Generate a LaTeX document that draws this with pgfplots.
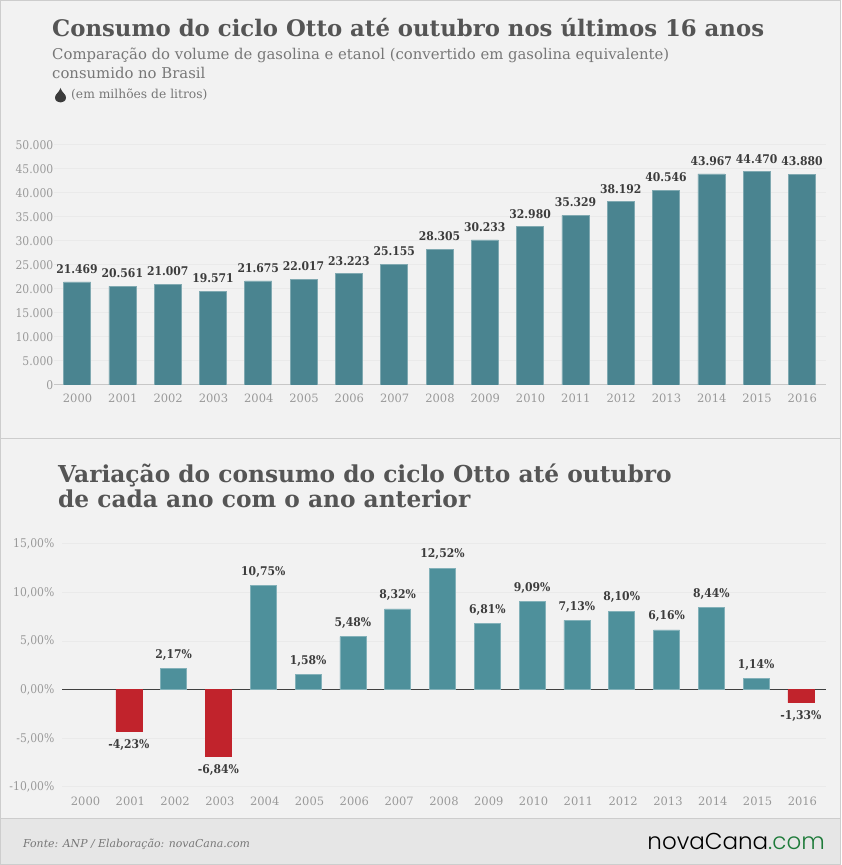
\documentclass[border=0pt]{standalone}
\usepackage{fontspec}
\usepackage{pgfplots}
\pgfplotsset{compat=1.18}
\setmainfont{DejaVu Serif}
\newfontfamily\condfont{DejaVu Serif Condensed}
\newfontfamily\logofont{Poppins}[UprightFont=* Light]
\definecolor{panel}{HTML}{F2F2F2}
\definecolor{foot}{HTML}{E6E6E6}
\definecolor{edge}{HTML}{CDCDCD}
\definecolor{gridc}{HTML}{EAEAEA}
\definecolor{titlec}{HTML}{555555}
\definecolor{subc}{HTML}{777777}
\definecolor{tickc}{HTML}{999999}
\definecolor{labelc}{HTML}{3C3C3C}
\definecolor{tealA}{HTML}{4A8490}
\definecolor{tealB}{HTML}{4E909B}
\definecolor{redbar}{HTML}{C1232C}
\definecolor{logog}{HTML}{1E7B3A}
\pgfplotsset{
  panelaxis/.style={
    scale only axis,
    ybar,
    bar width=27pt,
    bar shift=-0.5pt,
    axis line style={draw=none},
    tick style={draw=none},
    ymajorgrids,
    grid style={gridc,line width=1pt},
    xtick={2000,...,2016},
    xticklabel={\pgfmathprintnumber[fixed,precision=0,1000 sep={},assume math mode=true]{\tick}},
    x tick label style={font=\fontsize{11.5}{13}\selectfont,text=tickc,yshift=-3pt,inner sep=2pt},
    y tick label style={font=\condfont\fontsize{12}{13}\selectfont,text=tickc,inner xsep=0.5pt},
    every node near coord/.append style={font=\condfont\bfseries\fontsize{12}{13}\selectfont,text=labelc,inner ysep=8pt},
  }
}
\begin{document}
\begin{tikzpicture}[x=1pt,y=1pt]
\useasboundingbox (0,0) rectangle (841,865);
\fill[panel] (0,0) rectangle (841,865);
\fill[foot] (0,0) rectangle (841,46);
\draw[edge,line width=1pt] (0.5,0.5) rectangle (840.5,864.5);
\draw[edge,line width=1pt] (0,426) -- (841,426);
\draw[edge,line width=1pt] (0,46.5) -- (841,46.5);
% headings
\node[anchor=base west,inner sep=0,text=titlec] at (52,828) {\bfseries\fontsize{22.8}{26}\selectfont Consumo do ciclo Otto até outubro nos últimos 16 anos};
\node[anchor=base west,inner sep=0,text=subc] at (52,805) {\fontsize{14.85}{17}\selectfont Comparação do volume de gasolina e etanol (convertido em gasolina equivalente)};
\node[anchor=base west,inner sep=0,text=subc] at (52,786) {\fontsize{14.85}{17}\selectfont consumido no Brasil};
\node[anchor=base west,inner sep=0,text=subc] at (71,766) {\fontsize{12.3}{14}\selectfont (em milhões de litros)};
\fill[titlec!70!black] (60.5,777) .. controls (59,772) and (55,771) .. (55,767.5) .. controls (55,764) and (58,762.5) .. (60.5,762.5) .. controls (63,762.5) and (66,764) .. (66,767.5) .. controls (66,771) and (62,772) .. (60.5,777) -- cycle;
\node[anchor=base west,inner sep=0,text=titlec] at (58,382) {\bfseries\fontsize{23.3}{26}\selectfont Variação do consumo do ciclo Otto até outubro};
\node[anchor=base west,inner sep=0,text=titlec] at (58,357) {\bfseries\fontsize{23.3}{26}\selectfont de cada ano com o ano anterior};
% footer
\node[anchor=base west,inner sep=0,text=subc] at (23,17) {\itshape\fontsize{10.9}{14}\selectfont Fonte: ANP / Elaboração: novaCana.com};
\node[anchor=base east,inner sep=0] at (825,15) {\logofont\fontsize{23}{26}\selectfont\textcolor{black}{novaCana}\textcolor{logog}{.com}};
% top chart
\begin{axis}[panelaxis,
  at={(54pt,480pt)},anchor=south west,
  width=772pt,height=240pt,
  xmin=1999.48,xmax=2016.52,
  ymin=0,ymax=50000,
  ytick={0,5000,...,50000},
  /pgf/number format/1000 sep={.},
  /pgf/number format/assume math mode=true,
  scaled y ticks=false,
  nodes near coords,
  axis x line*=bottom,
  extra y ticks={0},
  extra y tick labels={},
  extra y tick style={grid style={gridc!85!black,line width=1pt}},
]
\addplot[fill=tealA,draw=tealA!70!white,line width=0.6pt] coordinates {
(2000,21469) (2001,20561) (2002,21007) (2003,19571) (2004,21675) (2005,22017)
(2006,23223) (2007,25155) (2008,28305) (2009,30233) (2010,32980) (2011,35329)
(2012,38192) (2013,40546) (2014,43967) (2015,44470) (2016,43880)};
\end{axis}
% bottom chart
\begin{axis}[panelaxis,
  at={(62pt,78pt)},anchor=south west,
  width=764pt,height=243pt,
  xmin=1999.475,xmax=2016.525,
  ymin=-10,ymax=15,
  bar width=26pt,
  bar shift=-1.5pt,
  ytick={-10,-5,0,5,10,15},
  /pgf/number format/.cd,fixed,fixed zerofill,precision=2,use comma,assume math mode=true,
  /pgfplots/.cd,
  yticklabel={\pgfmathprintnumber{\tick}\%},
  y tick label style={xshift=-7pt},
  nodes near coords={\pgfmathprintnumber{\pgfplotspointmeta}\%},
  axis x line*=bottom,
  extra y ticks={0},
  extra y tick labels={},
  extra y tick style={grid style={black!75,line width=0.7pt}},
]
\addplot[fill=tealB,draw=tealB!70!white,line width=0.6pt] coordinates {
(2002,2.17) (2004,10.75) (2005,1.58) (2006,5.48) (2007,8.32) (2008,12.52) (2009,6.81)
(2010,9.09) (2011,7.13) (2012,8.10) (2013,6.16) (2014,8.44) (2015,1.14)};
\addplot[fill=redbar,draw=redbar,line width=0.6pt] coordinates {
(2001,-4.23) (2003,-6.84) (2016,-1.33)};
\end{axis}
\end{tikzpicture}
\end{document}
